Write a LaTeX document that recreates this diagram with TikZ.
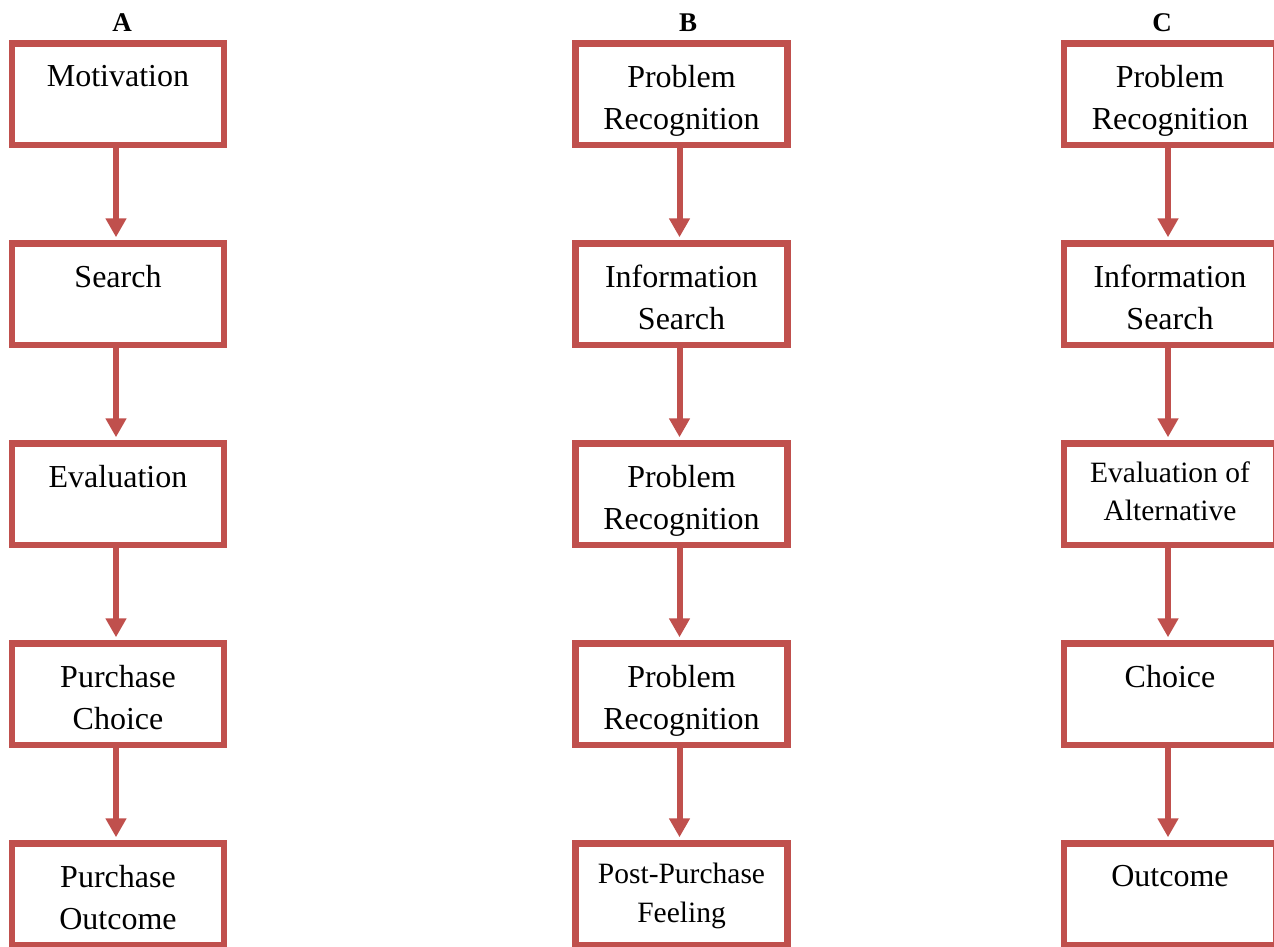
\documentclass[tikz,border=0pt]{standalone}
\usepackage{fontspec}
\setmainfont{Liberation Serif}
\usetikzlibrary{arrows.meta}
\definecolor{boxred}{RGB}{192,80,77}
\tikzset{
  stepbox/.style={draw=boxred, line width=6.5pt, minimum width=212pt, minimum height=101.5pt, inner sep=0pt, fill=white},
  bigtxt/.style={anchor=north, inner sep=0pt, align=center, font=\fontsize{32}{42}\selectfont},
  smalltxt/.style={anchor=north, inner sep=0pt, align=center, font=\fontsize{29.5}{38.5}\selectfont},
  collabel/.style={anchor=base, inner sep=0pt, font=\fontsize{27}{32}\selectfont\bfseries},
  flow/.style={draw=boxred, line width=6pt, -{Triangle[width=20pt,length=19pt]}, shorten >=3pt}
}
\begin{document}
\begin{tikzpicture}[x=1pt,y=-1pt]
\useasboundingbox (0,0) rectangle (1274,947);
% column labels
\node[collabel] (la) at (122,32) {A};
\node[collabel] (lb) at (688,32) {B};
\node[collabel] (lc) at (1162,32) {C};
% boxes: row i top = 43.5 + 200 i, center = 94.25 + 200 i
\foreach \c/\x in {a/118,b/681.5,c/1170}{
  \foreach \i in {1,...,5}{
    \node[stepbox] (\c\i) at (\x,{94.25+200*(\i-1)}) {};
  }
}
% texts column A
\node[bigtxt] (ta1) at ([yshift=-25pt]a1.north) {Motivation};
\node[bigtxt] (ta2) at ([yshift=-25pt]a2.north) {Search};
\node[bigtxt] (ta3) at ([yshift=-25pt]a3.north) {Evaluation};
\node[bigtxt] (ta4) at ([yshift=-25pt]a4.north) {Purchase\\Choice};
\node[bigtxt] (ta5) at ([yshift=-25pt]a5.north) {Purchase\\Outcome};
% texts column B
\node[bigtxt] (tb1) at ([yshift=-25pt]b1.north) {Problem\\Recognition};
\node[bigtxt] (tb2) at ([yshift=-25pt]b2.north) {Information\\Search};
\node[bigtxt] (tb3) at ([yshift=-25pt]b3.north) {Problem\\Recognition};
\node[bigtxt] (tb4) at ([yshift=-25pt]b4.north) {Problem\\Recognition};
\node[smalltxt] (tb5) at ([yshift=-23pt]b5.north) {Post-Purchase\\Feeling};
% texts column C
\node[bigtxt] (tc1) at ([yshift=-25pt]c1.north) {Problem\\Recognition};
\node[bigtxt] (tc2) at ([yshift=-25pt]c2.north) {Information\\Search};
\node[smalltxt] (tc3) at ([yshift=-21pt]c3.north) {Evaluation of\\Alternative};
\node[bigtxt] (tc4) at ([yshift=-25pt]c4.north) {Choice};
\node[bigtxt] (tc5) at ([yshift=-25pt]c5.north) {Outcome};
% arrows
\foreach \c in {a,b,c}{
  \foreach \i/\j in {1/2,2/3,3/4,4/5}{
    \draw[flow] ([xshift=-2pt]\c\i.south) -- ([xshift=-2pt]\c\j.north);
  }
}
\end{tikzpicture}
\end{document}
